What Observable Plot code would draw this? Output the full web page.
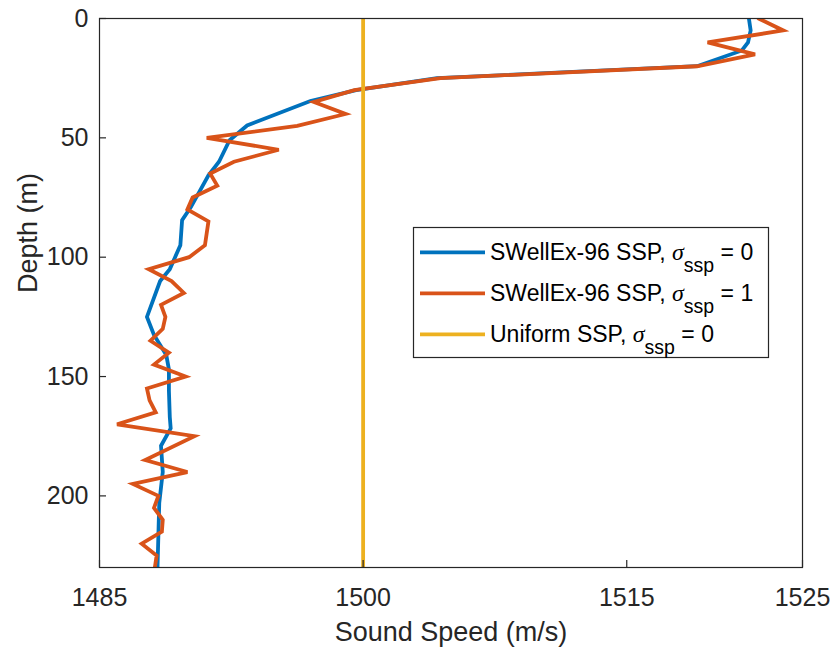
<!DOCTYPE html>
<html><head><meta charset="utf-8">
<script src="https://cdn.jsdelivr.net/npm/d3@7"></script>
<script src="https://cdn.jsdelivr.net/npm/@observablehq/plot@0.6"></script>
<style>body{margin:0;background:#fff} #chart{width:833px;height:647px}</style>
</head><body><div id="chart"></div>
<script>
// SWellEx-96 SSP, sigma_ssp = 0
const blueDepth = [0, 5, 10, 13.4, 20, 25, 30, 34.6, 44.8, 51, 60, 65.7, 79, 84.5, 95, 100, 105, 110, 125, 132.6, 141, 147, 156, 167, 171.7, 179, 190, 203, 230];
const blueSpeed = [1521.95, 1522.05, 1521.9, 1521.55, 1519.0, 1504.2, 1499.6, 1497.0, 1493.4, 1492.4, 1491.8, 1491.2, 1490.2, 1489.7, 1489.6, 1489.3, 1489.0, 1488.45, 1487.7, 1488.1, 1488.8, 1488.95, 1488.95, 1489.0, 1489.05, 1488.5, 1488.6, 1488.4, 1488.3];
// SWellEx-96 SSP, sigma_ssp = 1
const orangeDepth = [0, 5, 10, 15, 20, 25, 30, 35, 40, 45, 50, 55, 60, 65, 70, 75, 80, 85, 90, 95, 100, 105, 110, 115, 120, 125, 130, 135, 140, 145, 150, 155, 160, 165, 170, 175, 185, 190, 195, 200, 205, 210, 215, 220, 225, 230];
const orangeSpeed = [1522.5, 1523.9, 1519.6, 1522.3, 1519.0, 1504.4, 1499.5, 1497.2, 1499.0, 1496.25, 1491.1, 1495.2, 1492.65, 1491.3, 1491.7, 1490.3, 1490.0, 1491.2, 1491.1, 1491.0, 1490.1, 1487.8, 1489.1, 1489.8, 1488.5, 1488.75, 1488.6, 1487.9, 1488.95, 1488.1, 1489.9, 1487.7, 1487.85, 1488.2, 1486.0, 1490.4, 1487.6, 1490.0, 1486.9, 1488.35, 1488.1, 1488.6, 1488.55, 1487.4, 1488.25, 1488.15];
// Uniform SSP, sigma_ssp = 0
const uniformDepth = [0, 230];
const uniformSpeed = [1500, 1500];

const xTicks = [1485, 1500, 1515, 1525];
const yTicks = [0, 50, 100, 150, 200];
const legendNames = ["SWellEx-96 SSP, ", "SWellEx-96 SSP, ", "Uniform SSP, "];
const legendSigma = ["0", "1", "0"];
const colors = ["#0072BD", "#D95319", "#EDB120"];

const W = 833, H = 647, mL = 99, mR = 31, mT = 18, mB = 80;
const fw = W - mL - mR, fh = H - mT - mB;
const toRows = (ds, ss) => ds.map((d, i) => ({depth: d, speed: ss[i]}));
const series = [toRows(blueDepth, blueSpeed), toRows(orangeDepth, orangeSpeed), toRows(uniformDepth, uniformSpeed)];
const axisColor = "#262626";
const font = "'Liberation Sans', Arial, Helvetica, sans-serif";

const plot = Plot.plot({
  width: W, height: H,
  marginLeft: mL, marginRight: mR, marginTop: mT, marginBottom: mB,
  style: {fontFamily: font, background: "#fff", color: axisColor, overflow: "visible"},
  x: {domain: [1485, 1525]},
  y: {domain: [0, 230], reverse: true},
  marks: [
    Plot.axisX(xTicks, {tickSize: 0, tickPadding: 21, fontSize: 25, label: null, tickFormat: d => String(d), fill: axisColor}),
    Plot.axisY(yTicks, {tickSize: 0, tickPadding: 11, fontSize: 25, label: null, tickFormat: d => String(d), fill: axisColor}),
    ...series.map((s, i) => Plot.line(s, {x: "speed", y: "depth", stroke: colors[i], strokeWidth: 3.8, strokeLinejoin: "miter", strokeMiterlimit: 4, clip: true})),
    Plot.frame({stroke: axisColor, strokeWidth: 1.2}),
    Plot.ruleX(xTicks, {insetTop: fh - 7, stroke: axisColor, strokeWidth: 1.2}),
    Plot.ruleY(yTicks, {insetRight: fw - 7, stroke: axisColor, strokeWidth: 1.2}),
    Plot.text(["Sound Speed (m/s)"], {frameAnchor: "bottom", dy: 73, fontSize: 27, fill: axisColor}),
    Plot.text(["Depth (m)"], {frameAnchor: "left", dx: -71, rotate: -90, fontSize: 27, fill: axisColor})
  ]
});
document.getElementById("chart").appendChild(plot);

// legend
const svg = d3.select(plot);
const lg = svg.append("g").attr("font-family", font).attr("font-size", 23).attr("fill", "#000").attr("text-anchor", "start");
lg.append("rect").attr("x", 413.5).attr("y", 227.5).attr("width", 355).attr("height", 130)
  .attr("fill", "#fff").attr("stroke", axisColor).attr("stroke-width", 1.2);
legendNames.forEach((name, i) => {
  const cy = 252.3 + i * 41;
  lg.append("line").attr("x1", 420).attr("x2", 485).attr("y1", cy).attr("y2", cy)
    .attr("stroke", colors[i]).attr("stroke-width", 3.8);
  const t = lg.append("text").attr("x", 490).attr("y", cy + 7.8).attr("text-anchor", "start").style("white-space", "pre");
  t.append("tspan").text(name);
  t.append("tspan").attr("font-family", "'Liberation Serif', 'Times New Roman', serif").attr("font-style", "italic").attr("font-size", 24).text("σ");
  t.append("tspan").attr("font-size", 19.5).attr("dy", 12).text("ssp");
  t.append("tspan").attr("dy", -12).text(" = " + legendSigma[i]);
});
</script>
</body></html>
